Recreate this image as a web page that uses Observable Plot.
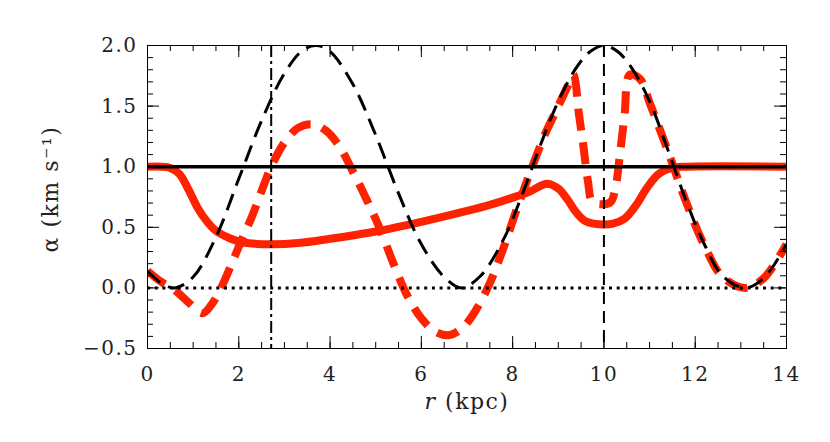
<!DOCTYPE html>
<html><head><meta charset="utf-8">
<script src="https://cdn.jsdelivr.net/npm/d3@7"></script>
<script src="https://cdn.jsdelivr.net/npm/@observablehq/plot@0.6"></script>
<style>body{margin:0;background:#fff}</style>
</head><body><div id="chart"></div>
<script>
// ---- data ----
const xMajor = [0, 2, 4, 6, 8, 10, 12, 14];
const yMajor = [-0.5, 0.0, 0.5, 1.0, 1.5, 2.0];
const xMinor = d3.range(0, 14.001, 0.5);
const yMinor = d3.range(-0.5, 2.0001, 0.1);
const rDashDot = [2.71];
const rDashed = [10];
const alphaSolid = [1.0];
const alphaDotted = [0.0];

const rBlack = [0,0.3,0.6,1.0,1.5,2.0,2.5,3.0,3.4,3.7,4.0,4.5,5.0,5.5,6.0,6.5,6.88,7.3,7.8,8.2,8.6,9.0,9.4,9.7,10.0,10.3,10.6,11.0,11.4,11.8,12.2,12.6,13.1,13.5,14.0];
const aBlack = [0.14,0.04,0.0,0.09,0.42,0.9,1.38,1.77,1.96,2.0,1.95,1.68,1.26,0.78,0.36,0.09,0.0,0.1,0.4,0.76,1.17,1.54,1.82,1.95,2.0,1.95,1.82,1.54,1.14,0.72,0.36,0.1,0.0,0.08,0.36];

const rRedDash = [0,0.3,0.6,0.9,1.2,1.4,1.6,1.8,2.0,2.3,2.7,3.0,3.3,3.6,3.9,4.2,4.5,4.8,5.1,5.4,5.7,6.0,6.3,6.6,6.9,7.2,7.5,7.8,8.1,8.4,8.7,9.0,9.2,9.33,9.45,9.55,9.65,9.75,10.0,10.15,10.25,10.35,10.45,10.57,10.8,11.0,11.4,11.8,12.2,12.6,13.1,13.5,14.0];
const aRedDash = [0.14,0.05,-0.02,-0.12,-0.21,-0.14,-0.01,0.16,0.34,0.6,0.99,1.2,1.32,1.35,1.3,1.17,0.96,0.73,0.48,0.19,-0.07,-0.25,-0.36,-0.39,-0.33,-0.18,0.04,0.33,0.66,0.97,1.26,1.5,1.66,1.76,1.44,1.17,0.88,0.71,0.69,0.71,0.82,1.1,1.42,1.76,1.72,1.53,1.13,0.71,0.35,0.09,0.0,0.08,0.36];

const rRedSolid = [0,0.3,0.5,0.7,0.9,1.1,1.3,1.5,1.8,2.1,2.7,3.3,4.0,5.0,6.0,7.0,7.5,8.0,8.4,8.75,9.0,9.2,9.4,9.6,9.9,10.2,10.45,10.7,10.95,11.2,11.5,11.8,14.0];
const aRedSolid = [1.0,1.0,0.99,0.94,0.81,0.66,0.55,0.47,0.41,0.375,0.36,0.37,0.405,0.465,0.545,0.635,0.685,0.745,0.8,0.86,0.82,0.73,0.62,0.55,0.525,0.53,0.57,0.68,0.83,0.94,0.99,1.0,1.0];

const xLabel = "r (kpc)";
const yLabel = "α (km s⁻¹)";

// ---- layout ----
const W = 830, H = 442, mt = 45, mb = 94, ml = 147, mr = 44;
const FH = H - mt - mb, FW = W - ml - mr;
const red = "#ff2200";
const font = "DejaVu Serif";

const toRows = (rs, as) => rs.map((r, i) => ({r, a: as[i]}));

const plot = Plot.plot({
  width: W, height: H,
  marginTop: mt, marginBottom: mb, marginLeft: ml, marginRight: mr,
  style: {fontFamily: font, fontSize: "20px", background: "#fff", color: "#222"},
  x: {domain: [0, 14], axis: null},
  y: {domain: [-0.5, 2.0], axis: null},
  marks: [
    Plot.line(toRows(rRedSolid, aRedSolid), {x: "r", y: "a", stroke: red, strokeWidth: 8, curve: "catmull-rom", clip: true}),
    Plot.line(toRows(rRedDash, aRedDash), {x: "r", y: "a", stroke: red, strokeWidth: 8, strokeDasharray: "22,12", strokeLinecap: "butt", curve: "catmull-rom", clip: true}),
    Plot.ruleY(alphaSolid, {y: d => d, stroke: "#000", strokeWidth: 3.5}),
    Plot.ruleY(alphaDotted, {y: d => d, stroke: "#000", strokeWidth: 3, strokeDasharray: "3,4.7", strokeLinecap: "butt"}),
    Plot.line(toRows(rBlack, aBlack), {x: "r", y: "a", stroke: "#000", strokeWidth: 3, strokeDasharray: "17,9", strokeLinecap: "butt", curve: "catmull-rom", clip: true}),
    Plot.ruleX(rDashDot, {x: d => d, stroke: "#000", strokeWidth: 2, strokeDasharray: "12,4,3,4"}),
    Plot.ruleX(rDashed, {x: d => d, stroke: "#000", strokeWidth: 2, strokeDasharray: "12,7"}),
    // inward ticks on all four sides
    Plot.ruleX(xMinor, {x: d => d, insetTop: FH - 6, stroke: "#000"}),
    Plot.ruleX(xMinor, {x: d => d, insetBottom: FH - 6, stroke: "#000"}),
    Plot.ruleX(xMajor, {x: d => d, insetTop: FH - 12, stroke: "#000"}),
    Plot.ruleX(xMajor, {x: d => d, insetBottom: FH - 12, stroke: "#000"}),
    Plot.ruleY(yMinor, {y: d => d, insetRight: FW - 6, stroke: "#000"}),
    Plot.ruleY(yMinor, {y: d => d, insetLeft: FW - 6, stroke: "#000"}),
    Plot.ruleY(yMajor, {y: d => d, insetRight: FW - 12, stroke: "#000"}),
    Plot.ruleY(yMajor, {y: d => d, insetLeft: FW - 12, stroke: "#000"}),
    Plot.frame({stroke: "#000", strokeWidth: 1}),
    // tick labels
    Plot.axisX(xMajor, {anchor: "bottom", tickSize: 0, tickPadding: 18, tickFormat: d3.format("d"), fontSize: 20, label: null}),
    Plot.axisY(yMajor, {anchor: "left", tickSize: 0, tickPadding: 10, tickFormat: d3.format(".1f"), fontSize: 20, label: null}),
    // axis titles
    Plot.text([xLabel], {frameAnchor: "bottom", dy: 53, lineAnchor: "middle", textAnchor: "middle", text: d => d, fontSize: 22, fill: "#222"}),
    Plot.text([yLabel], {frameAnchor: "left", dx: -97, dy: -8, lineAnchor: "middle", textAnchor: "middle", rotate: -90, text: d => d, fontSize: 22, fill: "#222"})
  ]
});

// italic r in the x title
plot.querySelectorAll("text").forEach(t => {
  if (t.textContent === xLabel) {
    t.textContent = "";
    const a = document.createElementNS("http://www.w3.org/2000/svg", "tspan");
    a.setAttribute("font-style", "italic");
    a.textContent = "r";
    const b = document.createElementNS("http://www.w3.org/2000/svg", "tspan");
    b.textContent = " (kpc)";
    t.appendChild(a); t.appendChild(b);
  }
});
plot.querySelectorAll("text").forEach(t => t.setAttribute("letter-spacing", "1.5"));
document.getElementById("chart").appendChild(plot);
</script>
</body></html>
